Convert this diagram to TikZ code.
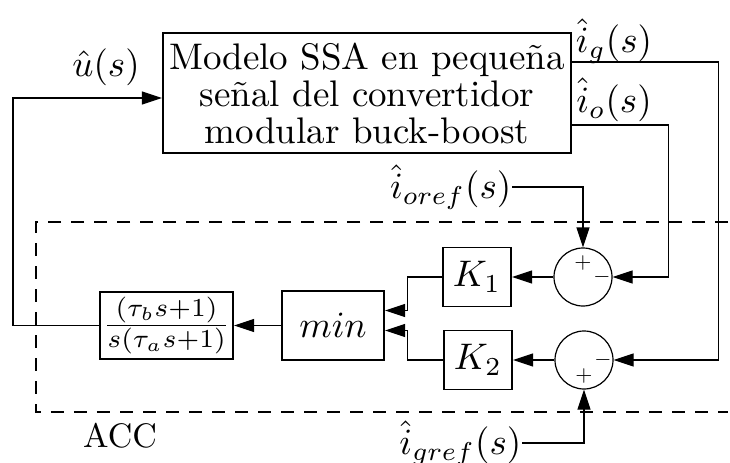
\RequirePackage{fix-cm}
\documentclass[tikz,border=0pt]{standalone}
\usetikzlibrary{arrows.meta}
\tikzset{
    big/.style={scale=1.85},
    block/.style={draw,line width=0.6pt,anchor=center,inner sep=0pt,big},
    sumnode/.style={draw,circle,line width=0.6pt,minimum size=29pt,inner sep=0pt},
    sign/.style={inner sep=0pt,font=\fontsize{11}{11}\selectfont},
    arr/.style={line width=0.6pt,-{Triangle[length=10pt,width=6.5pt]}},
    frame/.style={line width=0.8pt,dash pattern=on 6.5pt off 5pt}
}
\begin{document}
\begin{tikzpicture}[x=0.5pt,y=-0.5pt,font=\fontsize{10}{10}\selectfont]
                \useasboundingbox (0,0) rectangle (730,462);
                %% ACC frame
                \draw[frame] (728,222) -- (36,222) -- (36,412) -- (728,412);
                \node[anchor=center,scale=1.7] (acc) at (120,436) {ACC};
                %% plant
                \node[block,minimum width=110.3pt,minimum height=32.4pt,align=center] (plant) at (367,93) {Modelo SSA en pequeña\\señal del convertidor\\modular buck-boost};
                %% controller blocks
                \node[block,minimum width=35.9pt,minimum height=18.1pt] (tf) at (166.5,325.5) {$\frac{(\tau_b s+1)}{s(\tau_a s+1)}$};
                \node[block,minimum width=27.6pt,minimum height=18.6pt] (mn) at (333,325.5) {$min$};
                \node[block,minimum width=18.4pt,minimum height=15.9pt] (k1) at (477,277) {$K_1$};
                \node[block,minimum width=18.4pt,minimum height=15.9pt] (k2) at (478,360) {$K_2$};
                \node[sumnode] (s1) at (583,277) {};
                \node[sumnode] (s2) at (584,360) {};
                \node[sign] at ([yshift=7pt]s1.center) {$+$};
                \node[sign] at ([xshift=9.5pt]s1.center) {$-$};
                \node[sign] at ([xshift=9.5pt]s2.center) {$-$};
                \node[sign] at ([yshift=-8pt]s2.center) {$+$};
                %% signals
                \node[anchor=center,big] (u) at (106,67) {$\hat{u}(s)$};
                \node[anchor=center,big] (ig) at (614,41) {$\hat{i}_g(s)$};
                \node[anchor=center,big] (io) at (614,100) {$\hat{i}_o(s)$};
                \node[anchor=east,inner sep=0pt,big] (ioref) at (512,187) {$\hat{i}_{oref}(s)$};
                \node[anchor=east,inner sep=0pt,big] (igref) at (522,443) {$\hat{i}_{gref}(s)$};
                %% connections
                \draw[arr] (tf.west) -- (13,325.5) |- ([yshift=-2.5pt]plant.west);
                \draw[arr] (mn.west) -- (tf.east);
                \draw[arr] (k1.west) -- ++(-34,0) |- ([yshift=7.5pt]mn.east);
                \draw[arr] (k2.west) -- ++(-35,0) |- ([yshift=-2.5pt]mn.east);
                \draw[arr] (s1.west) -- (k1.east);
                \draw[arr] (s2.west) -- (k2.east);
                \draw[arr] ([yshift=-16pt]plant.east) -- ++(96,0) |- (s1.east);
                \draw[arr] ([yshift=15.5pt]plant.east) -- ++(146,0) |- (s2.east);
                \draw[arr] (ioref.east) -| (s1.north);
                \draw[arr] (igref.east) -| (s2.south);
            \end{tikzpicture}
\end{document}
